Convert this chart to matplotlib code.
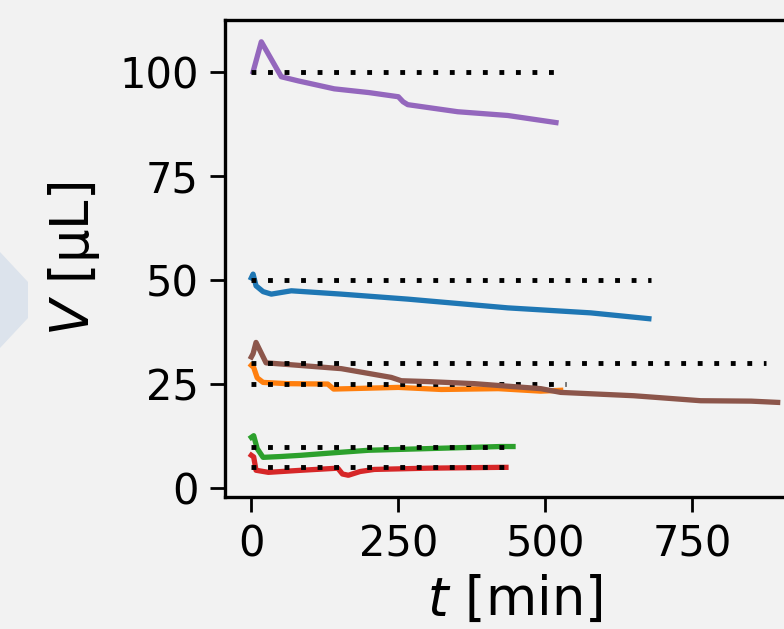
import matplotlib.pyplot as plt
from matplotlib.patches import Polygon

# volume over time for each well, with its target volume (dotted)
t_blue = [0, 3, 8, 20, 34, 68, 153, 266, 436, 577, 676]
v_blue = [50.5, 51.4, 48.6, 47.2, 46.6, 47.4, 46.6, 45.4, 43.3, 42.1, 40.7]
target_blue, tend_blue = 50, 680

t_orange = [0, 4, 10, 20, 60, 130, 140, 250, 323, 420, 492, 526]
v_orange = [29.5, 29.0, 26.5, 25.4, 25.1, 25.0, 23.8, 24.2, 23.7, 23.9, 23.3, 23.5]
target_orange, tend_orange = 25, 535

t_green = [0, 4, 10, 20, 50, 85, 150, 199, 300, 424, 445]
v_green = [12.2, 12.6, 9.5, 7.4, 7.6, 7.9, 8.6, 9.1, 9.5, 10.0, 10.0]
target_green, tend_green = 10, 445

t_red = [0, 4, 8, 29, 85, 147, 155, 165, 185, 209, 300, 424, 433]
v_red = [7.9, 7.5, 4.3, 3.8, 4.3, 4.8, 3.4, 3.1, 4.0, 4.5, 4.8, 5.0, 5.0]
target_red, tend_red = 5, 432

t_purple = [3, 17, 51, 80, 141, 200, 250, 258, 266, 351, 436, 518]
v_purple = [100, 107.2, 98.8, 97.8, 95.9, 95.0, 94.0, 92.8, 92.1, 90.4, 89.5, 87.8]
target_purple, tend_purple = 100, 515

t_brown = [0, 3, 8, 25, 80, 153, 238, 255, 300, 379, 492, 526, 650, 764, 850, 895]
v_brown = [31.5, 32.3, 35.0, 30.1, 29.5, 28.7, 26.6, 25.8, 25.6, 25.1, 23.9, 23.0, 22.2, 21.0, 20.9, 20.6]
target_brown, tend_brown = 30, 875

bg = '#f2f2f2'
fig = plt.figure(figsize=(7.84, 6.29), dpi=100, facecolor=bg)
ax = fig.add_axes([0.287, 0.21, 0.7385, 0.758], facecolor=bg)

# decorative chevron on the left edge of the slide
fig.add_artist(Polygon([(0, 1 - 252 / 629), (28 / 784, 1 - 282 / 629),
                        (28 / 784, 1 - 318 / 629), (0, 1 - 348 / 629)],
                       closed=True, transform=fig.transFigure,
                       facecolor='#dce3ec', edgecolor='none'))

series = [
    (t_blue, v_blue, target_blue, tend_blue, 'C0'),
    (t_orange, v_orange, target_orange, tend_orange, 'C1'),
    (t_green, v_green, target_green, tend_green, 'C2'),
    (t_red, v_red, target_red, tend_red, 'C3'),
    (t_purple, v_purple, target_purple, tend_purple, 'C4'),
    (t_brown, v_brown, target_brown, tend_brown, 'C5'),
]
for t, v, target, tend, c in series:
    ax.plot(t, v, color=c, lw=3.8)
    ax.plot([0, tend], [target, target], color='k', lw=3.5,
            linestyle=(0, (1, 2.4)))

ax.set_xlim(-44.75, 939.75)
ax.set_ylim(-2.1, 112.4)
ax.set_xticks([0, 250, 500, 750])
ax.set_yticks([0, 25, 50, 75, 100])
ax.tick_params(labelsize=30, length=11, width=2, pad=8)
for s in ax.spines.values():
    s.set_linewidth(2.4)
ax.set_xlabel('$t$ [min]', fontsize=38, labelpad=6)
ax.set_ylabel('$V$ [μL]', fontsize=38, labelpad=12)

fig.savefig('out.png', dpi=100, facecolor=bg)
